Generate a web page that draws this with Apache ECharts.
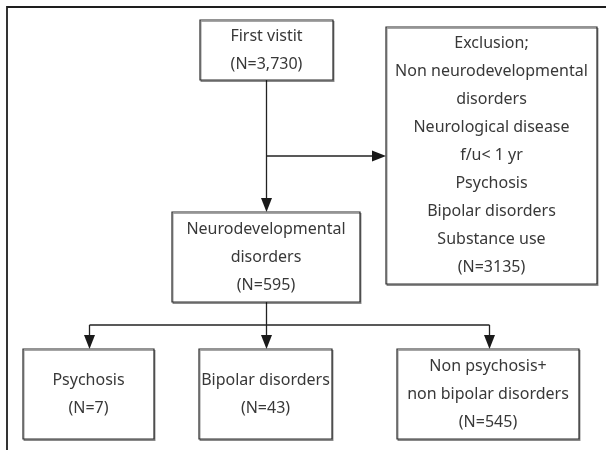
<!DOCTYPE html>
<html>
<head>
<meta charset="utf-8">
<script src="https://cdn.jsdelivr.net/npm/echarts@6/dist/echarts.min.js"></script>
<style>
  html, body { margin: 0; padding: 0; background: #fff; }
  #chart { width: 606px; height: 450px; }
</style>
</head>
<body>
<div id="chart"></div>
<script>
// flow steps and their counts
const stepNames = ['First vistit', 'Neurodevelopmental\ndisorders', 'Psychosis', 'Bipolar disorders', 'Non psychosis+\nnon bipolar disorders']
const stepCounts = ['3,730', '595', '7', '43', '545']
const exclusionTitle = 'Exclusion;'
const exclusionReasons = ['Non neurodevelopmental\ndisorders', 'Neurological disease', 'f/u< 1 yr', 'Psychosis', 'Bipolar disorders', 'Substance use']
const exclusionCount = '3135'

// layout (chart units, y grows downward) [x0, y0, x1, y1]
const stepBoxes = [
  [200, 20, 333, 80],
  [172, 212, 360, 302],
  [23, 349, 154, 439],
  [199, 349, 332, 439],
  [397, 349, 579, 439]
]
const exclusionBox = [386, 27, 597, 284]

// connector polylines, arrow head on the end point
const connectors = [
  { pts: [[266.5, 80], [266.5, 212]], arrow: true },
  { pts: [[266.5, 156], [386, 156]], arrow: true },
  { pts: [[266.5, 302], [266.5, 349]], arrow: true },
  { pts: [[89.5, 325], [489.5, 325]], arrow: false },
  { pts: [[89.5, 325], [89.5, 349]], arrow: true },
  { pts: [[489.5, 325], [489.5, 349]], arrow: true },
  { pts: [[606, 7], [7, 7], [7, 450]], arrow: false, frame: true }
]

const boxTexts = stepNames.map((n, i) => n + '\n(N=' + stepCounts[i] + ')')
boxTexts.push([exclusionTitle].concat(exclusionReasons).concat(['(N=' + exclusionCount + ')']).join('\n'))
const boxData = stepBoxes.concat([exclusionBox])

const chart = echarts.init(document.getElementById('chart'))

const textFont = '16px "Noto Sans", "Open Sans", sans-serif'

chart.setOption({
  animation: false,
  grid: { left: 0, right: 0, top: 0, bottom: 0 },
  xAxis: { type: 'value', min: 0, max: 606, show: false },
  yAxis: { type: 'value', min: 0, max: 450, inverse: true, show: false },
  series: [
    {
      type: 'custom',
      clip: false,
      data: connectors.map((c, i) => [i]),
      renderItem(params, api) {
        const c = connectors[params.dataIndex]
        const pts = c.pts.map(p => api.coord(p))
        const children = []
        if (c.arrow) {
          const a = pts[pts.length - 2]
          const b = pts[pts.length - 1]
          const len = Math.hypot(b[0] - a[0], b[1] - a[1])
          const ux = (b[0] - a[0]) / len
          const uy = (b[1] - a[1]) / len
          const hl = 14, hw = 5.5
          const base = [b[0] - ux * hl, b[1] - uy * hl]
          pts[pts.length - 1] = [base[0] + ux * 2, base[1] + uy * 2]
          children.push({
            type: 'polygon',
            shape: { points: [b, [base[0] - uy * hw, base[1] + ux * hw], [base[0] + uy * hw, base[1] - ux * hw]] },
            style: { fill: '#1a1a1a' }
          })
        }
        children.unshift({
          type: 'polyline',
          shape: { points: pts },
          style: { stroke: c.frame ? '#1e1e1e' : '#222', lineWidth: c.frame ? 1.8 : 1.3, fill: null }
        })
        return { type: 'group', children }
      },
      z: 1
    },
    {
      type: 'custom',
      clip: false,
      data: boxData,
      renderItem(params, api) {
        const p0 = api.coord([api.value(0), api.value(1)])
        const p1 = api.coord([api.value(2), api.value(3)])
        return {
          type: 'group',
          children: [
            {
              type: 'rect',
              shape: { x: p0[0], y: p0[1], width: p1[0] - p0[0], height: p1[1] - p0[1] },
              style: {
                fill: '#fff', stroke: '#2a2a2a', lineWidth: 1.2,
                shadowColor: 'rgba(0,0,0,0.35)', shadowOffsetX: 1, shadowOffsetY: 1.5, shadowBlur: 0
              }
            },
            {
              type: 'text',
              x: (p0[0] + p1[0]) / 2,
              y: (p0[1] + p1[1]) / 2,
              style: {
                text: boxTexts[params.dataIndex],
                align: 'center',
                verticalAlign: 'middle',
                font: textFont,
                lineHeight: 28,
                fill: '#383838'
              }
            }
          ]
        }
      },
      z: 2
    }
  ]
})
</script>
</body>
</html>
